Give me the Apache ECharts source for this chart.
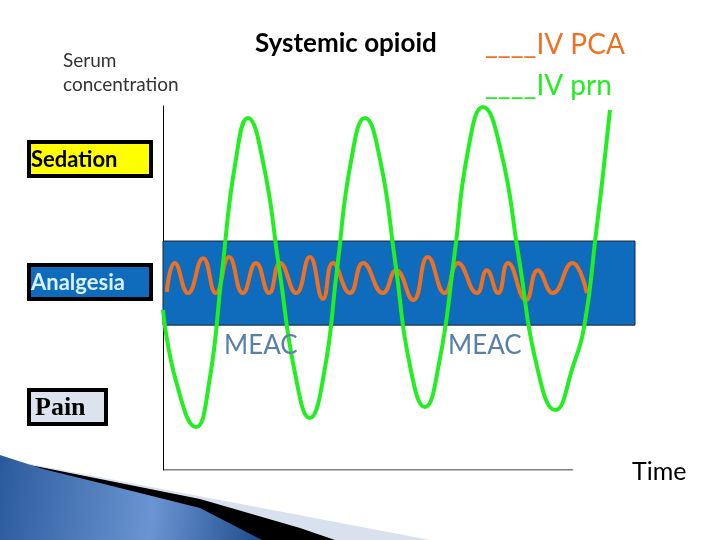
<!DOCTYPE html>
<html>
<head>
<meta charset="utf-8">
<script src="https://cdn.jsdelivr.net/npm/echarts@6/dist/echarts.min.js"></script>
<style>
    html, body { margin: 0; padding: 0; background: #fff; }
    #main { width: 720px; height: 540px; }
</style>
</head>
<body>
<div id="main"></div>
<script>
// IV prn (green) - big swings
var prnTime = [0.0, 2.8, 7.0, 9.8, 12.5, 15.3, 18.0, 21.2, 24.6, 28.0, 31.1, 34.1, 36.9, 39.8, 42.8, 46.0, 49.2, 52.3, 55.5, 58.5, 61.7, 64.6, 67.8, 71.6, 75.4, 79.2, 83.1, 86.9, 89.4, 91.7, 93.2, 94.7];
var prnLevel = [44.0, 24.2, 11.8, 24.2, 54.4, 84.1, 96.7, 84.6, 55.5, 26.4, 14.3, 26.4, 55.5, 84.6, 96.7, 85.2, 57.1, 28.8, 17.3, 29.4, 58.5, 87.6, 99.7, 87.6, 58.2, 28.6, 16.5, 28.6, 40.7, 64.6, 81.0, 98.9];

// IV PCA (orange) - small swings inside the window
var pcaTime = [0.8, 2.5, 5.3, 8.5, 11.2, 14.0, 16.9, 19.7, 22.5, 24.8, 28.2, 31.1, 33.9, 36.0, 39.6, 42.4, 46.6, 49.4, 53.0, 56.1, 59.7, 62.5, 66.5, 68.6, 71.0, 73.1, 76.9, 79.4, 82.6, 86.7, 89.8];
var pcaLevel = [48.9, 56.9, 48.6, 58.2, 48.6, 58.5, 48.6, 56.9, 48.6, 56.9, 48.6, 58.5, 47.0, 56.9, 48.6, 56.9, 48.6, 54.9, 46.7, 58.5, 48.6, 56.9, 48.6, 54.9, 48.6, 56.9, 46.7, 54.9, 48.6, 56.9, 48.6];

// analgesia window (MEAC .. sedation)
var windowLow = 39.8;
var windowHigh = 62.9;
var timeAxisEnd = 86.9;

function zip(a, b) {
    var out = [];
    for (var i = 0; i < a.length; i++) out.push([a[i], b[i]]);
    return out;
}

var chart = echarts.init(document.getElementById('main'));

function boxText(x, y, w, h, fill, text, color, font, dx) {
    return [{
        type: 'rect',
        shape: { x: x, y: y, width: w, height: h },
        style: { fill: fill, stroke: '#000', lineWidth: 4 },
        z: 10
    }, {
        type: 'text',
        x: x + dx, y: y + h / 2 + 1,
        style: { text: text, fill: color, font: font, textAlign: 'left', textVerticalAlign: 'middle' },
        z: 11
    }];
}

var graphics = [
    // slide decoration bottom-left
    {
        type: 'polygon',
        shape: { points: [[0, 458], [20, 462], [430, 540], [0, 540]] },
        style: { fill: '#d9e1ee' },
        z: 1
    },
    {
        type: 'polygon',
        shape: { points: [[0, 460], [40, 467], [200, 499], [300, 528], [335, 540], [0, 540]] },
        style: { fill: '#000' },
        z: 2
    },
    {
        type: 'polygon',
        shape: { points: [[0, 455], [43, 469], [100, 483], [200, 508], [262, 540], [0, 540]] },
        style: {
            fill: new echarts.graphic.LinearGradient(0, 0, 1, 0.4, [
                { offset: 0, color: '#2b5a9c' },
                { offset: 0.6, color: '#6b95d2' },
                { offset: 1, color: '#234f90' }
            ])
        },
        z: 3
    },
    // labels
    {
        type: 'text', x: 63, y: 61,
        style: { text: 'Serum', fill: '#333', font: '19px Lato', textVerticalAlign: 'middle' }
    },
    {
        type: 'text', x: 63, y: 85,
        style: { text: 'concentration', fill: '#333', font: '19px Lato', textVerticalAlign: 'middle' }
    },
    {
        type: 'text', x: 255, y: 44,
        style: { text: 'Systemic opioid', fill: '#000', font: 'bold 26px Lato', textVerticalAlign: 'middle' }
    },
    {
        type: 'text', x: 485, y: 45,
        style: { text: '____IV PCA', fill: '#ee7022', font: '28px Lato', textVerticalAlign: 'middle' }
    },
    {
        type: 'text', x: 485, y: 86,
        style: { text: '____IV prn', fill: '#22ee22', font: '28px Lato', textVerticalAlign: 'middle' }
    },
    {
        type: 'text', x: 224, y: 346,
        style: { text: 'MEAC', fill: '#5a7fa8', font: '26px Lato', textVerticalAlign: 'middle' },
        z: 5
    },
    {
        type: 'text', x: 448, y: 346,
        style: { text: 'MEAC', fill: '#5a7fa8', font: '26px Lato', textVerticalAlign: 'middle' },
        z: 5
    },
    {
        type: 'text', x: 632, y: 472,
        style: { text: 'Time', fill: '#000', font: '25px Lato', textVerticalAlign: 'middle' }
    }
]
    .concat(boxText(29, 142, 122, 34, '#ffff00', 'Sedation', '#000', 'bold 22px Lato', 2))
    .concat(boxText(29, 265, 122, 34, '#0f6cbd', 'Analgesia', '#d6f1ff', 'bold 22px Lato', 2))
    .concat(boxText(29, 390, 77, 34, '#dde3ee', 'Pain', '#000', 'bold 26px "Liberation Serif"', 6));

var option = {
    animation: false,
    backgroundColor: '#fff',
    grid: {
        left: 163,
        right: 85,
        top: 106,
        bottom: 70
    },
    xAxis: {
        type: 'value',
        min: 0,
        max: 100,
        axisLine: { show: false },
        axisTick: { show: false },
        axisLabel: { show: false },
        splitLine: { show: false }
    },
    yAxis: {
        type: 'value',
        min: 0,
        max: 100,
        axisLine: { show: true, lineStyle: { color: '#000', width: 1 } },
        axisTick: { show: false },
        axisLabel: { show: false },
        splitLine: { show: false }
    },
    graphic: graphics,
    series: [{
        name: 'window',
        type: 'line',
        data: [],
        z: 1,
        markArea: {
            silent: true,
            itemStyle: { color: '#0f6cbd', borderColor: '#1a2533', borderWidth: 1 },
            data: [[{ xAxis: 0, yAxis: windowLow }, { xAxis: 100, yAxis: windowHigh }]]
        }
    }, {
        name: 'time axis',
        type: 'line',
        data: [[0, 0], [timeAxisEnd, 0]],
        symbol: 'none',
        lineStyle: { color: '#000', width: 1 },
        z: 2
    }, {
        name: 'IV PCA',
        type: 'line',
        data: zip(pcaTime, pcaLevel),
        smooth: 0.5,
        symbol: 'none',
        lineStyle: { color: '#ee7022', width: 4 },
        z: 3
    }, {
        name: 'IV prn',
        type: 'line',
        data: zip(prnTime, prnLevel),
        smooth: 0.5,
        symbol: 'none',
        lineStyle: { color: '#22ee22', width: 4 },
        z: 4
    }]
};
chart.setOption(option);
window.addEventListener('resize', function () {
    chart.resize();
});
</script>
</body>
</html>
